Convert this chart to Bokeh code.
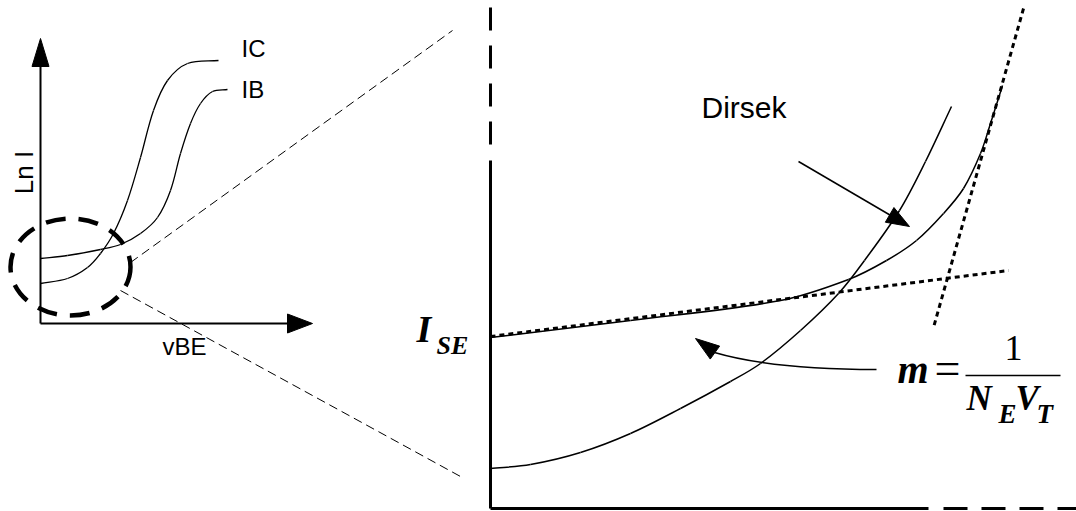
import math
from bokeh.plotting import figure
from bokeh.models import Range1d
from bokeh.core.properties import value
from bokeh.embed import file_html
from bokeh.resources import INLINE

W, H = 1076, 511
SANS = value("Liberation Sans")
SERIF = value("Liberation Serif")
BASE_SHIFT = 0.37  # em offset of the rendered alphabetic baseline

# ---------------- left inset: ln I against vBE ----------------
ic_x = [40, 67, 87, 100, 113, 127, 140, 153, 167, 187, 218]
ic_y = [283, 278, 267, 253, 233, 200, 157, 110, 80, 63, 60]
ib_x = [40, 67, 100, 120, 140, 157, 170, 180, 190, 200, 212, 227]
ib_y = [258, 255, 249, 244, 233, 217, 190, 153, 123, 103, 91, 89]

inset_origin = (40, 323)
inset_y_tip = (40, 38)
inset_x_tip = (312, 323)

zoom_center = (70, 266.5)
zoom_size = (120, 97)
# guide lines from the zoom ellipse to the magnified view
guide_x0 = [130, 120]
guide_y0 = [262, 290]
guide_x1 = [452, 460]
guide_y1 = [30, 476]

inset_labels = ["IC", "IB", "vBE"]
inset_label_x = [241, 241, 162]
inset_label_y = [57, 98, 355]

# ---------------- magnified view near the origin ----------------
dirsek_x = [490, 530, 580, 630, 680, 730, 760, 800, 838, 864, 899, 925, 951]
dirsek_y = [468, 464, 452, 433, 408, 381, 363, 330, 293, 260, 210, 161, 106]
ise_x = [490, 630, 780, 848, 886, 916, 943, 963, 980, 990, 1002]
ise_y = [337, 320, 300, 279, 260, 240, 213, 188, 153, 123, 85]

# asymptotes (dotted)
low_tan_x = [490, 1008]
low_tan_y = [336, 270]
high_tan_x = [1023, 933]
high_tan_y = [8, 327]

axis_x = 490
axis_y = 508
axis_solid_top = 160
axis_dash_top = 7
axis_dash_bottom = 145
axis_solid_right = 928
axis_dash_left = 943


def smooth_segments(xs, ys):
    """Smooth cubic Bezier pieces through the anchor points (chord-scaled tangents)."""
    pts = list(zip(xs, ys))
    n = len(pts)
    tans = []
    for i in range(n):
        a, b = pts[max(i - 1, 0)], pts[min(i + 1, n - 1)]
        dx, dy = b[0] - a[0], b[1] - a[1]
        d = math.hypot(dx, dy)
        tans.append((dx / d, dy / d))
    out = {k: [] for k in ("x0", "y0", "x1", "y1", "cx0", "cy0", "cx1", "cy1")}
    for i in range(n - 1):
        (xa, ya), (xb, yb) = pts[i], pts[i + 1]
        L = math.hypot(xb - xa, yb - ya) / 3.0
        out["x0"].append(xa); out["y0"].append(ya)
        out["x1"].append(xb); out["y1"].append(yb)
        out["cx0"].append(xa + tans[i][0] * L); out["cy0"].append(ya + tans[i][1] * L)
        out["cx1"].append(xb - tans[i + 1][0] * L); out["cy1"].append(yb - tans[i + 1][1] * L)
    return out


def head(tip, back, length, width):
    """Triangle arrow head with its point at tip, aimed away from back."""
    tx, ty = tip
    dx, dy = tx - back[0], ty - back[1]
    d = math.hypot(dx, dy)
    ux, uy = dx / d, dy / d
    bx, by = tx - ux * length, ty - uy * length
    px, py = -uy * width / 2, ux * width / 2
    return [tx, bx + px, bx - px], [ty, by + py, by - py]


def label(p, xs, ys, texts, font, size, style="normal", align="left"):
    """Place texts so that ys is the alphabetic baseline."""
    p.text(x=xs, y=[y - BASE_SHIFT * size for y in ys], text=texts, text_font=font,
           text_font_size=f"{size}px", text_font_style=style, text_align=align,
           text_baseline="alphabetic", text_color="black")


p = figure(width=W, height=H, x_range=Range1d(0, W), y_range=Range1d(H, 0),
           min_border=0, toolbar_location=None, output_backend="svg",
           x_axis_type=None, y_axis_type=None)
p.grid.visible = False
p.outline_line_color = None
p.background_fill_color = "white"
p.border_fill_color = "white"

# ---- inset axes ----
p.segment(x0=[inset_origin[0], inset_origin[0]], y0=[inset_origin[1], inset_origin[1]],
          x1=[inset_y_tip[0], inset_x_tip[0] - 20], y1=[inset_y_tip[1] + 22, inset_x_tip[1]],
          line_color="black", line_width=2)
hy = head(inset_y_tip, inset_origin, 28, 17)
hx = head(inset_x_tip, inset_origin, 25, 19)
p.patches(xs=[hy[0], hx[0]], ys=[hy[1], hx[1]], fill_color="black", line_color="black", line_width=1)

# ---- inset curves ----
for cx, cy in ((ic_x, ic_y), (ib_x, ib_y)):
    p.bezier(line_color="black", line_width=1.3, **smooth_segments(cx, cy))

# zoom ellipse and guide lines
p.ellipse(x=[zoom_center[0]], y=[zoom_center[1]], width=[zoom_size[0]], height=[zoom_size[1]],
          fill_color=None, line_color="black", line_width=4.5, line_dash="20 13")
p.segment(x0=guide_x0, y0=guide_y0, x1=guide_x1, y1=guide_y1,
          line_color="black", line_width=1, line_dash="9 5")

label(p, inset_label_x, inset_label_y, inset_labels, SANS, 24)
# vertical axis name, reading upwards
p.text(x=[33 - BASE_SHIFT * 26], y=[172], text=["Ln I"], angle=math.pi / 2, text_font=SANS,
       text_font_size="26px", text_align="center", text_baseline="alphabetic", text_color="black")

# ---- magnified axes ----
p.segment(x0=[axis_x, axis_x], y0=[axis_y, axis_y], x1=[axis_x, axis_solid_right],
          y1=[axis_solid_top, axis_y], line_color="black", line_width=3)
p.segment(x0=[axis_x], y0=[axis_dash_top], x1=[axis_x], y1=[axis_dash_bottom],
          line_color="black", line_width=3, line_dash="23 15")
p.segment(x0=[axis_dash_left], y0=[axis_y], x1=[W], y1=[axis_y],
          line_color="black", line_width=3, line_dash="24 14")

# ---- magnified curves ----
for cx, cy in ((dirsek_x, dirsek_y), (ise_x, ise_y)):
    p.bezier(line_color="black", line_width=1.5, **smooth_segments(cx, cy))

p.line(low_tan_x, low_tan_y, line_color="black", line_width=3, line_dash="5 4")
p.line(high_tan_x, high_tan_y, line_color="black", line_width=3, line_dash="5 4")

# ---- annotation arrows ----
dirsek_tail = (798, 161)
dirsek_tip = (909, 226)
hd = head(dirsek_tip, dirsek_tail, 23, 17)
p.segment(x0=[dirsek_tail[0]], y0=[dirsek_tail[1]], x1=[892], y1=[216],
          line_color="black", line_width=1.5)

slope_tail = (876, 369)
slope_ctrl = (772, 369)
slope_end = (714, 352)
slope_tip = (695, 338)
hm = head(slope_tip, (715, 352.5), 24, 16)
p.quadratic(x0=[slope_tail[0]], y0=[slope_tail[1]], x1=[slope_end[0]], y1=[slope_end[1]],
            cx=[slope_ctrl[0]], cy=[slope_ctrl[1]], line_color="black", line_width=1.5)
p.patches(xs=[hd[0], hm[0]], ys=[hd[1], hm[1]], fill_color="black", line_color="black", line_width=1)

label(p, [701], [118], ["Dirsek"], SANS, 30)

# ---- I_SE label ----
label(p, [416], [343], ["I"], SERIF, 38, "bold italic")
label(p, [436], [355], ["SE"], SERIF, 26, "bold italic")

# ---- slope formula m = 1 / (N_E V_T) ----
label(p, [897], [384], ["m"], SERIF, 40, "bold italic")
label(p, [947], [385], ["="], SERIF, 46, align="center")
p.segment(x0=[965], y0=[375], x1=[1060], y1=[375], line_color="black", line_width=1.5)
label(p, [1013], [361], ["1"], SERIF, 36, align="center")
label(p, [966, 1015], [411, 411], ["N", "V"], SERIF, 35, "bold italic")
label(p, [998, 1036], [423, 423], ["E", "T"], SERIF, 27, "bold italic")

open("out.html", "w").write(file_html(p, INLINE))
